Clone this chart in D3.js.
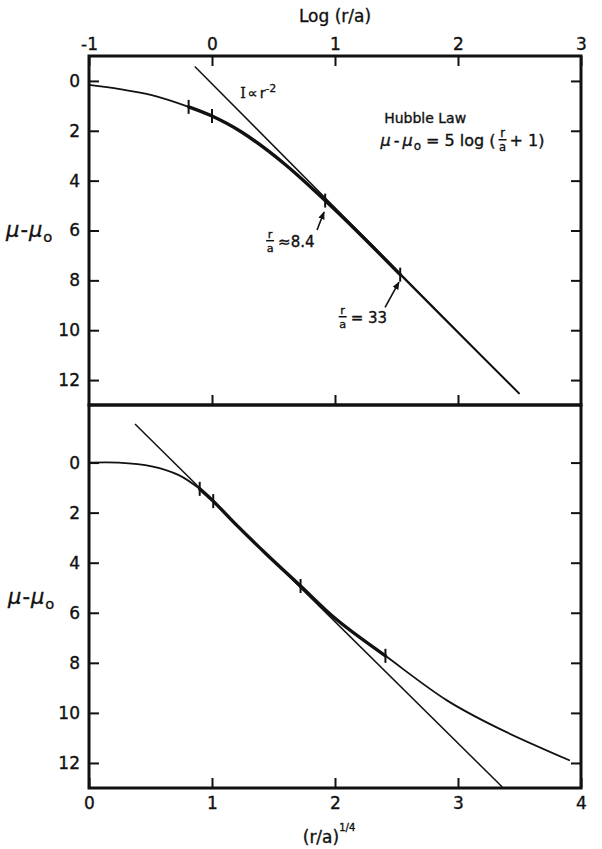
<!DOCTYPE html>
<html lang="en">

<head>
    <meta charset="utf-8">
    <title>Hubble Law profile</title>
    <script src="https://d3js.org/d3.v7.min.js"></script>
    <style>
        body { margin: 0; background: #fff; }
        text { font-family: "DejaVu Sans", sans-serif; fill: #111; stroke: #111; stroke-width: 0.35px; }
    </style>
</head>

<body>
    <svg width="602" height="849"></svg>

    <script>
        // tick values
        const logTicks = [-1, 0, 1, 2, 3];
        const rootTicks = [0, 1, 2, 3, 4];
        const muTicks = [0, 2, 4, 6, 8, 10, 12];

        // top panel: Hubble law vs log(r/a)
        const hubbleLog = [-1.0, -0.75, -0.49, -0.19, 0.0, 0.24, 0.59, 0.92, 1.2, 1.53, 2.0, 2.5];
        const hubbleMu = [0.16, 0.33, 0.57, 1.04, 1.41, 2.05, 3.33, 4.8, 6.13, 7.77, 10.1, 12.55];
        const powerLog = [-0.14, 2.5];      // I ~ r^-2
        const powerMu = [-0.58, 12.55];
        const markLog = [-0.19, 0.0, 0.92, 1.53];

        // bottom panel: same law vs (r/a)^1/4
        const rootX = [0, 0.24, 0.51, 0.73, 0.9, 1.01, 1.2, 1.43, 1.72, 2.01, 2.41, 2.91, 3.31, 3.91];
        const rootMu = [0, 0.0, 0.15, 0.5, 1.05, 1.54, 2.5, 3.6, 4.93, 6.26, 7.72, 9.5, 10.57, 11.9];
        const lineX = [0.374, 3.36];
        const lineMu = [-1.54, 12.96];
        const markRoot = [0.9, 1.01, 1.72, 2.41];

        const svg = d3.select("svg");
        const ink = "#111";

        const xTop = d3.scaleLinear().domain([-1, 3]).range([89, 581]);
        const yTop = d3.scaleLinear().domain([-1, 13]).range([56, 405]);
        const xBot = d3.scaleLinear().domain([0, 4]).range([89, 581]);
        const yBot = d3.scaleLinear().domain([-2.3, 13]).range([405, 788]);

        svg.append("defs").append("marker")
            .attr("id", "head")
            .attr("viewBox", "0 0 10 10")
            .attr("refX", 9).attr("refY", 5)
            .attr("markerWidth", 5).attr("markerHeight", 5)
            .attr("orient", "auto")
            .append("path")
            .attr("d", "M0,1 L10,5 L0,9 Z")
            .attr("fill", ink);

        function styleAxis(g, size) {
            g.select(".domain").remove();
            g.selectAll(".tick line").attr("stroke", ink).attr("stroke-width", 2);
            g.selectAll(".tick text").attr("font-size", size || 16).attr("fill", ink);
        }

        function drawAxes(x, y, xTickVals, topLabels) {
            const [x0, x1] = x.range();
            const [y0, y1] = y.range();
            const fmt = d => String(d);

            svg.append("g").attr("transform", `translate(${x0},0)`)
                .call(d3.axisLeft(y).tickValues(muTicks).tickSize(-10).tickPadding(9).tickFormat(fmt))
                .call(g => styleAxis(g, 17));
            svg.append("g").attr("transform", `translate(${x1},0)`)
                .call(d3.axisRight(y).tickValues(muTicks).tickSize(-10).tickFormat(""))
                .call(g => styleAxis(g));

            if (topLabels) {
                svg.append("g").attr("transform", `translate(0,${y0})`)
                    .call(d3.axisTop(x).tickValues(xTickVals).tickSize(-10).tickPadding(6).tickFormat(fmt))
                    .call(g => styleAxis(g, 17));
                svg.append("g").attr("transform", `translate(0,${y1})`)
                    .call(d3.axisBottom(x).tickValues(xTickVals.slice(1, -1)).tickSize(-10).tickFormat(""))
                    .call(g => styleAxis(g));
            } else {
                svg.append("g").attr("transform", `translate(0,${y1})`)
                    .call(d3.axisBottom(x).tickValues(xTickVals).tickSize(-10).tickPadding(9).tickFormat(fmt))
                    .call(g => styleAxis(g, 17));
            }

            svg.append("rect")
                .attr("x", x0).attr("y", y0)
                .attr("width", x1 - x0).attr("height", y1 - y0)
                .attr("fill", "none").attr("stroke", ink).attr("stroke-width", 3);
        }

        function drawCurve(x, y, xs, ys, marks, lxs, lys) {
            const pts = xs.map((v, i) => [v, ys[i]]);
            const line = d3.line().x(d => x(d[0])).y(d => y(d[1])).curve(d3.curveCatmullRom);

            // straight reference line
            svg.append("path")
                .datum(lxs.map((v, i) => [v, lys[i]]))
                .attr("d", d3.line().x(d => x(d[0])).y(d => y(d[1])))
                .attr("fill", "none").attr("stroke", ink).attr("stroke-width", 1.5);

            svg.append("path").datum(pts)
                .attr("d", line)
                .attr("fill", "none").attr("stroke", ink).attr("stroke-width", 1.8);

            const lo = marks[0], hi = marks[marks.length - 1];
            svg.append("path").datum(pts.filter(d => d[0] >= lo && d[0] <= hi))
                .attr("d", line)
                .attr("fill", "none").attr("stroke", ink).attr("stroke-width", 3.4)
                .attr("stroke-linecap", "round");

            svg.append("g").selectAll("line")
                .data(marks.map(m => pts.find(p => p[0] === m)))
                .join("line")
                .attr("x1", d => x(d[0])).attr("x2", d => x(d[0]))
                .attr("y1", d => y(d[1]) - 7).attr("y2", d => y(d[1]) + 7)
                .attr("stroke", ink).attr("stroke-width", 2);
        }

        // one text element built from pieces laid left to right; {frac} gives r over a
        function textRun(x0, y0, pieces, size) {
            const t = svg.append("text").attr("font-size", size);
            let x = x0;
            pieces.forEach(p => {
                if (p.frac) {
                    const fs = size * (p.scale || 0.72);
                    const pre = p.pre === undefined ? 4 : p.pre;
                    const cx = x + pre + 4, cy = y0 - (p.lift || 5);
                    t.append("tspan").attr("x", cx).attr("y", cy - fs * 0.26)
                        .attr("text-anchor", "middle").attr("font-size", fs).text("r");
                    t.append("tspan").attr("x", cx).attr("y", cy + fs * 0.98)
                        .attr("text-anchor", "middle").attr("font-size", fs).text("a");
                    svg.append("line").attr("x1", cx - 4).attr("x2", cx + 4)
                        .attr("y1", cy).attr("y2", cy)
                        .attr("stroke", ink).attr("stroke-width", 1.5);
                    x += pre + 8 + (p.gap === undefined ? 4 : p.gap);
                    return;
                }
                const s = t.append("tspan").attr("x", x).attr("y", y0 + (p.dy || 0))
                    .attr("font-size", size * (p.scale || 1))
                    .attr("font-style", p.italic ? "italic" : null)
                    .attr("font-family", p.serif ? "DejaVu Serif, serif" : null)
                    .text(p.t);
                x += s.node().getComputedTextLength() + (p.gap || 0);
            });
            return t;
        }

        drawAxes(xTop, yTop, logTicks, true);
        drawAxes(xBot, yBot, rootTicks, false);

        drawCurve(xTop, yTop, hubbleLog, hubbleMu, markLog, powerLog, powerMu);
        drawCurve(xBot, yBot, rootX, rootMu, markRoot, lineX, lineMu);

        // axis titles
        svg.append("text").attr("x", xTop(1)).attr("y", 22)
            .attr("text-anchor", "middle").attr("font-size", 17).text("Log (r/a)");
        svg.append("text").attr("x", xBot(2) - 6).attr("y", 843)
            .attr("text-anchor", "middle").attr("font-size", 17)
            .text("(r/a)")
            .append("tspan").attr("dy", -12).attr("font-size", 10).text("1/4");

        const muLabel = [
            { t: "\u03bc", italic: true, gap: 1 },
            { t: "-", gap: 1 },
            { t: "\u03bc", italic: true, gap: 1 },
            { t: "o", scale: 0.7, dy: 5 }
        ];
        textRun(6, yTop(6) + 6, muLabel, 21);
        textRun(8, yBot(5.4) + 6, muLabel, 21);

        // annotations, top panel
        textRun(xTop(0.23), yTop(0.68), [
            { t: "I", serif: true, gap: 2 },
            { t: "\u221d", gap: 2 },
            { t: "r" },
            { t: "-2", scale: 0.75, dy: -6 }
        ], 14);

        svg.append("text").attr("x", xTop(1.4)).attr("y", yTop(1.7))
            .attr("font-size", 14).text("Hubble Law");
        textRun(xTop(1.37), yTop(2.6), [
            { t: "\u03bc", italic: true, gap: 3 },
            { t: "-", gap: 3 },
            { t: "\u03bc", italic: true, gap: 1 },
            { t: "o", scale: 0.75, dy: 4 },
            { t: " = 5 log (" },
            { frac: true, pre: 3, gap: 3, lift: 6 },
            { t: "+ 1)" }
        ], 16);

        const notes = [
            { label: "\u22488.4", fx: 0.44, fmu: 6.65, tail: [0.854, 5.98], tip: [0.911, 5.26] },
            { label: "= 33", fx: 1.03, fmu: 9.7, tail: [1.407, 9.08], tip: [1.52, 8.07] }
        ];
        notes.forEach(n => {
            textRun(xTop(n.fx), yTop(n.fmu), [
                { frac: true, scale: 0.75, lift: 6, pre: 0, gap: 4 },
                { t: n.label }
            ], 15);
            svg.append("line")
                .attr("x1", xTop(n.tail[0])).attr("y1", yTop(n.tail[1]))
                .attr("x2", xTop(n.tip[0])).attr("y2", yTop(n.tip[1]))
                .attr("stroke", ink).attr("stroke-width", 1.6)
                .attr("marker-end", "url(#head)");
        });
    </script>
</body>

</html>
